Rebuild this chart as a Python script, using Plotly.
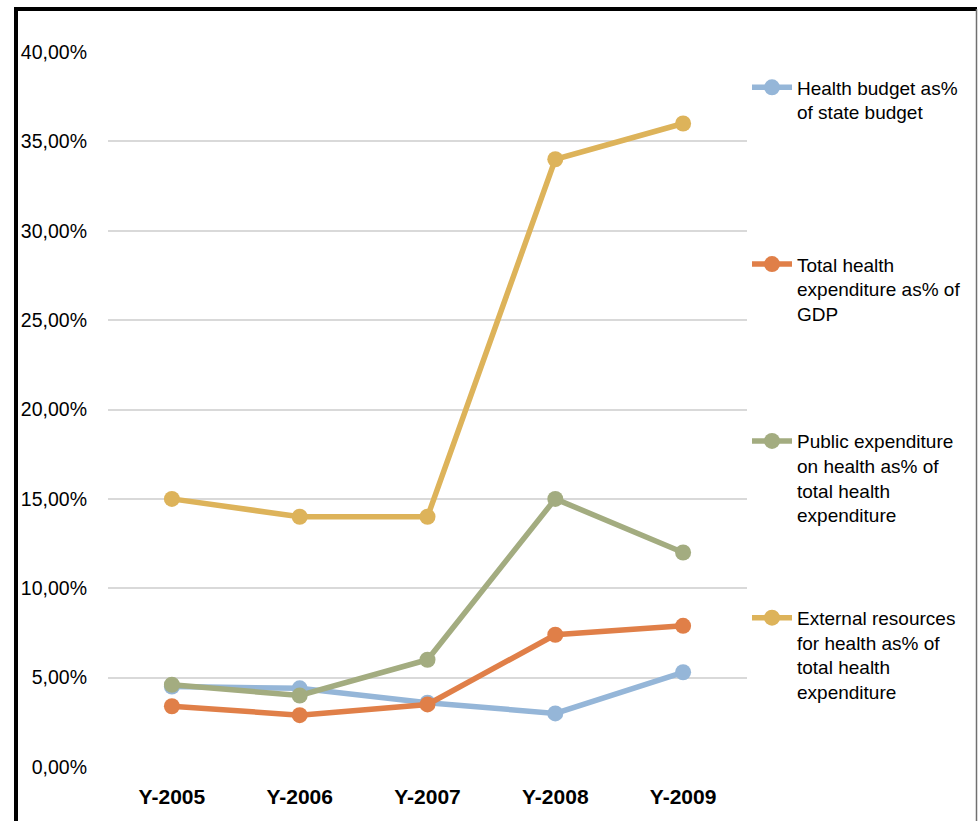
import plotly.graph_objects as go

years = ["Y-2005", "Y-2006", "Y-2007", "Y-2008", "Y-2009"]
health_budget = [4.5, 4.4, 3.6, 3.0, 5.3]
total_health_gdp = [3.4, 2.9, 3.5, 7.4, 7.9]
public_expenditure = [4.6, 4.0, 6.0, 15.0, 12.0]
external_resources = [15.0, 14.0, 14.0, 34.0, 36.0]

names = [
    "Health budget as%<br>of state budget",
    "Total health<br>expenditure as% of<br>GDP",
    "Public expenditure<br>on health as% of<br>total health<br>expenditure",
    "External resources<br>for health as% of<br>total health<br>expenditure",
]
colors = ["#95B6D8", "#E07F48", "#A3AC80", "#DDB35A"]
series = [health_budget, total_health_gdp, public_expenditure, external_resources]

fig = go.Figure()
for i, (nm, col, vals) in enumerate(zip(names, colors, series)):
    nlines = nm.count("<br>") + 1
    pad = "<br>\u00a0" * (4 - nlines)
    fig.add_trace(go.Scatter(
        x=years, y=vals, name=nm + pad, mode="lines+markers",
        line=dict(color=col, width=5.5),
        marker=dict(color=col, size=16),
        legendgroup=f"g{i}",
    ))

fig.update_layout(
    width=978, height=821,
    margin=dict(l=108, r=231, t=52, b=54),
    paper_bgcolor="white", plot_bgcolor="white",
    separators=",.",
    font=dict(family="Liberation Sans, Arial, sans-serif", size=19, color="black"),
    legend=dict(
        x=1.0, xanchor="left", y=0.977, yanchor="top",
        valign="top", traceorder="grouped", tracegroupgap=75,
        font=dict(size=19), itemwidth=40,
        bgcolor="rgba(0,0,0,0)",
    ),
    showlegend=True,
)
fig.update_xaxes(
    type="category", range=[-0.5, 4.5], showgrid=False, showline=False,
    zeroline=False, tickfont=dict(size=21, family="Liberation Sans, Arial, sans-serif"),
    tickprefix="<b>", ticksuffix="</b>", ticklabelstandoff=15,
)
fig.update_yaxes(
    range=[0, 40], dtick=5, tickformat=".2f", ticksuffix="%",
    tickfont=dict(size=19.5),
    showgrid=True, gridcolor="#d9d9d9", gridwidth=1.5,
    zeroline=False, showline=False, ticklabelstandoff=20,
)

# outer frame
fig.add_shape(type="line", xref="paper", yref="paper",
              x0=(16 - 108) / 639, x1=(977 - 108) / 639,
              y0=(768 - 9) / 716, y1=(768 - 9) / 716,
              line=dict(color="black", width=4))
fig.add_shape(type="line", xref="paper", yref="paper",
              x0=(16 - 108) / 639, x1=(16 - 108) / 639,
              y0=(768 - 7) / 716, y1=(768 - 830) / 716,
              line=dict(color="black", width=4))
fig.add_shape(type="line", xref="paper", yref="paper",
              x0=(976.5 - 108) / 639, x1=(976.5 - 108) / 639,
              y0=(768 - 9) / 716, y1=(768 - 830) / 716,
              line=dict(color="#707070", width=1.5))

fig.write_html("out.html")
